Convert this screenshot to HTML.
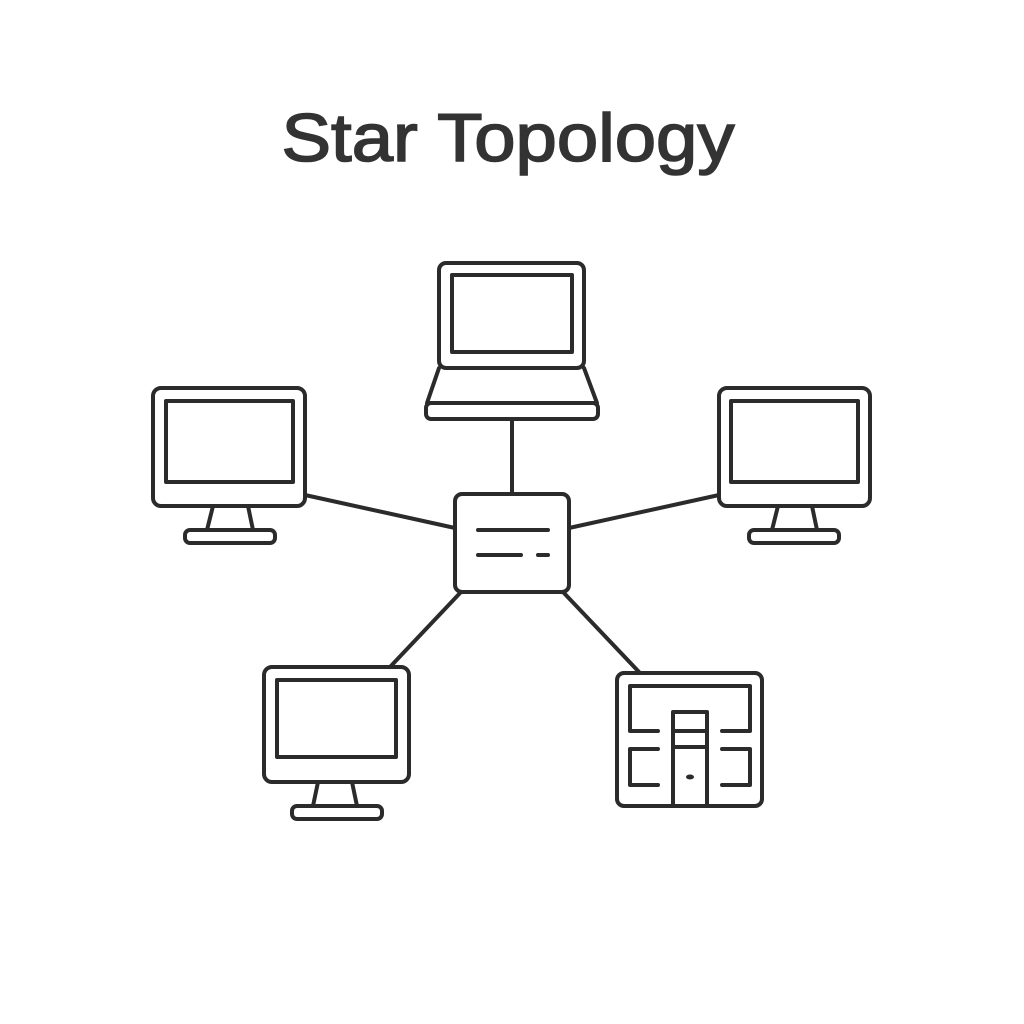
<!DOCTYPE html>
<html><head><meta charset="utf-8"><style>html,body{margin:0;padding:0;background:#fff}svg{display:block}</style></head>
<body>
<svg width="1024" height="1024" viewBox="0 0 1024 1024" xmlns="http://www.w3.org/2000/svg">
<rect width="1024" height="1024" fill="#fff"/>
<text x="508" y="161" text-anchor="middle" font-family="Liberation Sans, sans-serif" font-weight="normal" font-size="68" fill="#333" stroke="#333" stroke-width="1.6" textLength="453" lengthAdjust="spacingAndGlyphs">Star Topology</text>
<g fill="none" stroke="#2b2b2b" stroke-width="4" stroke-linejoin="round" stroke-linecap="round">
<line x1="512" y1="419" x2="512" y2="494"/>
<line x1="305" y1="495" x2="455" y2="528"/>
<line x1="719" y1="495" x2="569" y2="528"/>
<line x1="390" y1="667" x2="461" y2="592"/>
<line x1="640" y1="673" x2="563" y2="592"/>
<rect x="455" y="494" width="114" height="98" rx="7"/>
<line x1="478" y1="530" x2="548" y2="530"/>
<line x1="478" y1="555" x2="521" y2="555"/>
<line x1="538" y1="555" x2="548" y2="555"/>
<rect x="439" y="263" width="145" height="105" rx="7"/>
<rect x="452" y="275" width="120" height="77"/>
<path d="M439 368 L427 403 L597 403 L584 368"/>
<rect x="426" y="403" width="172" height="16" rx="5"/>
<rect x="153" y="388" width="152" height="118" rx="8"/>
<rect x="166" y="401" width="127" height="81"/>
<path d="M213 506 L207 530 M248 506 L253 530"/>
<rect x="185" y="530" width="90" height="13" rx="5"/>
<rect x="719" y="388" width="151" height="118" rx="8"/>
<rect x="731" y="401" width="127" height="81"/>
<path d="M778 506 L772 530 M812 506 L817 530"/>
<rect x="749" y="530" width="90" height="13" rx="5"/>
<rect x="264" y="667" width="145" height="115" rx="8"/>
<rect x="277" y="680" width="119" height="77"/>
<path d="M318 782 L313 806 M352 782 L357 806"/>
<rect x="292" y="806" width="90" height="13" rx="5"/>
<rect x="617" y="673" width="145" height="133" rx="7"/>
<path d="M658 731 L630 731 L630 686 L750 686 L750 731 L722 731"/>
<path d="M658 749 L630 749 L630 785 L658 785"/>
<path d="M722 749 L750 749 L750 785 L722 785"/>
<path d="M673 806 L673 712 L707 712 L707 806"/>
<line x1="673" y1="731" x2="707" y2="731"/>
<line x1="673" y1="747" x2="707" y2="747"/>
</g>
<ellipse cx="690" cy="777" rx="4" ry="2.5" fill="#2b2b2b"/>
</svg>
</body></html>
